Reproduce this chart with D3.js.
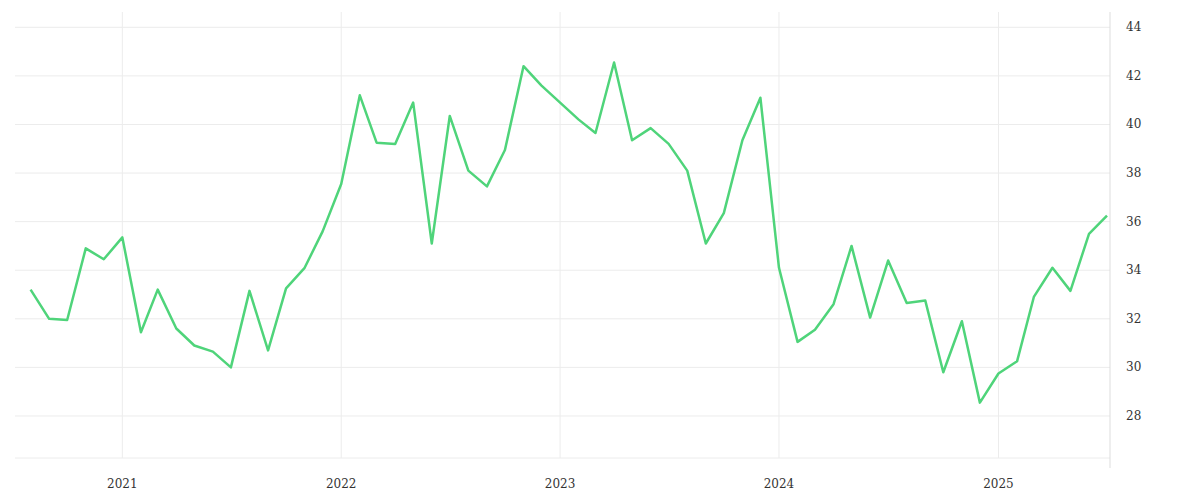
<!DOCTYPE html>
<html><head><meta charset="utf-8">
<script src="https://cdn.jsdelivr.net/npm/d3@7"></script>
<style>body{margin:0;background:#fff}svg text{font-family:"DejaVu Serif",serif;font-size:12px;fill:#333}</style>
</head><body><svg id="c" width="1200" height="500"></svg>
<script>
const startMonth = "2020-08";
const values = [33.2,32.0,31.95,34.9,34.45,35.35,31.45,33.2,31.6,30.9,30.65,30.0,33.15,30.7,33.25,34.1,35.6,37.55,41.2,39.25,39.2,40.9,35.1,40.35,38.1,37.45,38.95,42.4,41.6,40.9,40.2,39.65,42.55,39.35,39.85,39.2,38.1,35.1,36.35,39.35,41.1,34.1,31.05,31.55,32.6,35.0,32.05,34.4,32.65,32.75,29.8,31.9,28.55,29.75,30.25,32.9,34.1,33.15,35.5,36.25];
const yTicks = [28,30,32,34,36,38,40,42,44];
const xTickYears = [2021,2022,2023,2024,2025];

const start = d3.timeParse("%Y-%m")(startMonth);
const data = values.map((v,i)=>({d:d3.timeMonth.offset(start,i),v}));
const svg = d3.select("#c");
const L=15,R=1110,T=12,B=458;
const x = d3.scaleTime().domain([new Date(2020,6,6),new Date(2025,6,6)]).range([L,R]);
const y = d3.scaleLinear().domain([26.27,44.63]).range([B,T]);
const g = svg.append("g");
g.selectAll(".hg").data(yTicks).join("line").attr("x1",L).attr("x2",R).attr("y1",d=>y(d)).attr("y2",d=>y(d)).attr("stroke","#ececec");
g.append("line").attr("x1",L).attr("x2",R).attr("y1",B).attr("y2",B).attr("stroke","#ececec");
const xd = xTickYears.map(yr=>new Date(yr,0,1));
g.selectAll(".vg").data(xd).join("line").attr("x1",d=>x(d)).attr("x2",d=>x(d)).attr("y1",T).attr("y2",B).attr("stroke","#ececec");
g.append("line").attr("x1",R).attr("x2",R).attr("y1",T).attr("y2",468).attr("stroke","#ddd");
g.selectAll(".yt").data(yTicks).join("text").attr("x",R+16).attr("y",d=>y(d)+4).text(d=>d);
g.selectAll(".xt").data(xd).join("text").attr("x",d=>x(d)).attr("y",488).attr("text-anchor","middle").text(d=>d3.timeFormat("%Y")(d));
svg.append("path").datum(data).attr("fill","none").attr("stroke","#4fd47a").attr("stroke-width",2.5).attr("stroke-linejoin","round")
 .attr("d",d3.line().x(d=>x(d.d)).y(d=>y(d.v)));
</script></body></html>
